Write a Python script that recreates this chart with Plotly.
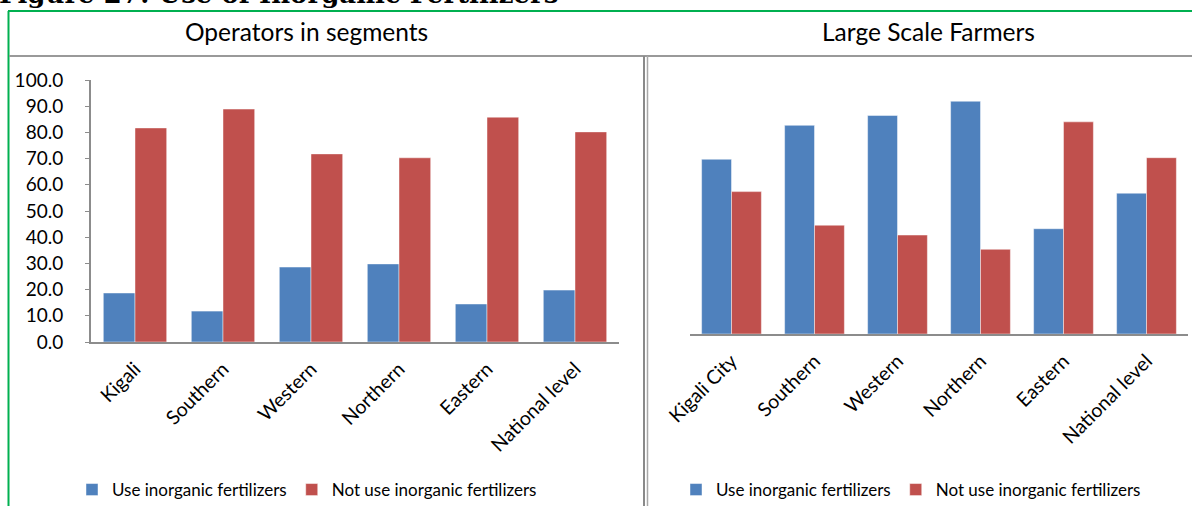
import plotly.graph_objects as go

W, H = 1192, 506

# ---- data ----
categories_left = ["Kigali", "Southern", "Western", "Northern", "Eastern", "National level"]
use_left = [18.7, 11.8, 28.6, 29.8, 14.5, 19.8]
notuse_left = [81.7, 88.9, 71.8, 70.3, 85.8, 80.2]

categories_right = ["Kigali City", "Southern", "Western", "Northern", "Eastern", "National level"]
use_right = [55.1, 65.8, 68.9, 73.4, 33.2, 44.4]
notuse_right = [44.9, 34.3, 31.2, 26.7, 66.9, 55.6]

series_names = ["Use inorganic fertilizers", "Not use inorganic fertilizers"]
left_title = "Operators in segments"
right_title = "Large Scale Farmers"
caption = "Figure 27: Use of Inorganic Fertilizers"
ytick_vals = [0, 10, 20, 30, 40, 50, 60, 70, 80, 90, 100]

BLUE = "#4f81bd"
RED = "#c0504d"
FONT = "Lato"


def px(x):
    return x / W


def py(y):
    return 1 - y / H


fig = go.Figure()
bar_line = dict(color="rgba(255,255,255,0.45)", width=1)
fig.add_trace(go.Bar(x=categories_left, y=use_left, name=series_names[0],
                     marker=dict(color=BLUE, line=bar_line),
                     xaxis="x", yaxis="y", legend="legend"))
fig.add_trace(go.Bar(x=categories_left, y=notuse_left, name=series_names[1],
                     marker=dict(color=RED, line=bar_line),
                     xaxis="x", yaxis="y", legend="legend"))
fig.add_trace(go.Bar(x=categories_right, y=use_right, name=series_names[0],
                     marker=dict(color=BLUE, line=bar_line),
                     xaxis="x2", yaxis="y2", legend="legend2"))
fig.add_trace(go.Bar(x=categories_right, y=notuse_right, name=series_names[1],
                     marker=dict(color=RED, line=bar_line),
                     xaxis="x2", yaxis="y2", legend="legend2"))

axis_font = dict(family=FONT, size=19.5, color="#000")
legend_font = dict(family=FONT, size=17, color="#000")

fig.update_layout(
    template="none",
    width=W, height=H, autosize=False,
    margin=dict(l=0, r=0, t=0, b=0, pad=0, autoexpand=False),
    paper_bgcolor="white", plot_bgcolor="white",
    barmode="group", bargap=0.28, bargroupgap=0,
    font=dict(family=FONT, size=17, color="#000"),
    xaxis=dict(domain=[px(91), px(619)], anchor="y", showline=True, linecolor="#8c8c8c",
               linewidth=2, ticks="", tickangle=-45, tickfont=axis_font, showgrid=False,
               ticklabelstandoff=6, automargin=False, zeroline=False),
    yaxis=dict(domain=[py(342), py(80)], anchor="x", range=[0, 100], tickvals=ytick_vals,
               tickformat=".1f", showline=True, linecolor="#8c8c8c", linewidth=2,
               ticks="outside", ticklen=4, tickcolor="#8c8c8c",
               showgrid=False, zeroline=False, tickfont=dict(family=FONT, size=19, color="#000"),
               ticklabelstandoff=18, automargin=False),
    xaxis2=dict(domain=[px(690), px(1188)], anchor="y2", showline=True, linecolor="#8c8c8c",
                linewidth=2, ticks="", tickangle=-45, tickfont=axis_font, showgrid=False,
                ticklabelstandoff=6, automargin=False, zeroline=False),
    yaxis2=dict(domain=[py(334), py(80)], anchor="x2", range=[0, 80.1], showline=False,
                showticklabels=False, showgrid=False, zeroline=False, ticks="",
                automargin=False),
    legend=dict(orientation="h", x=px(72), y=py(490), xanchor="left", yanchor="middle",
                font=legend_font, bgcolor="rgba(0,0,0,0)", traceorder="normal",
                borderwidth=0),
    legend2=dict(orientation="h", x=px(676), y=py(490), xanchor="left", yanchor="middle",
                 font=legend_font, bgcolor="rgba(0,0,0,0)", traceorder="normal",
                 borderwidth=0),
    showlegend=True,
)

shapes = [
    # green frame
    dict(type="line", xref="paper", yref="paper", x0=px(8), x1=1, y0=py(11), y1=py(11),
         line=dict(color="#00b050", width=2)),
    dict(type="line", xref="paper", yref="paper", x0=px(8.5), x1=px(8.5), y0=py(11), y1=0,
         line=dict(color="#00b050", width=2)),
    # header separator
    dict(type="line", xref="paper", yref="paper", x0=px(9), x1=1, y0=py(56), y1=py(56),
         line=dict(color="#999999", width=2)),
    # vertical divider (double line)
    dict(type="line", xref="paper", yref="paper", x0=px(644), x1=px(644), y0=py(56), y1=0,
         line=dict(color="#8a8a8a", width=2)),
    dict(type="line", xref="paper", yref="paper", x0=px(647.5), x1=px(647.5), y0=py(56), y1=0,
         line=dict(color="#a8a8a8", width=1.5)),
]
fig.update_layout(shapes=shapes)

annotations = [
    dict(text=caption, xref="paper", yref="paper", x=px(-3), y=py(-6), xanchor="left",
         yanchor="middle", showarrow=False,
         font=dict(family="DejaVu Serif", size=26, color="#000", weight="bold")),
    dict(text=left_title, xref="paper", yref="paper", x=px(306), y=py(32), xanchor="center",
         yanchor="middle", showarrow=False, font=dict(family=FONT, size=24.5, color="#000")),
    dict(text=right_title, xref="paper", yref="paper", x=px(928), y=py(32), xanchor="center",
         yanchor="middle", showarrow=False, font=dict(family=FONT, size=24.5, color="#000")),
]
fig.update_layout(annotations=annotations)

fig.write_html("out.html",
               config={"displayModeBar": False, "responsive": False},
               post_script="document.body.style.margin='0';document.body.style.padding='0';"
                           "document.documentElement.style.overflow='hidden';")
